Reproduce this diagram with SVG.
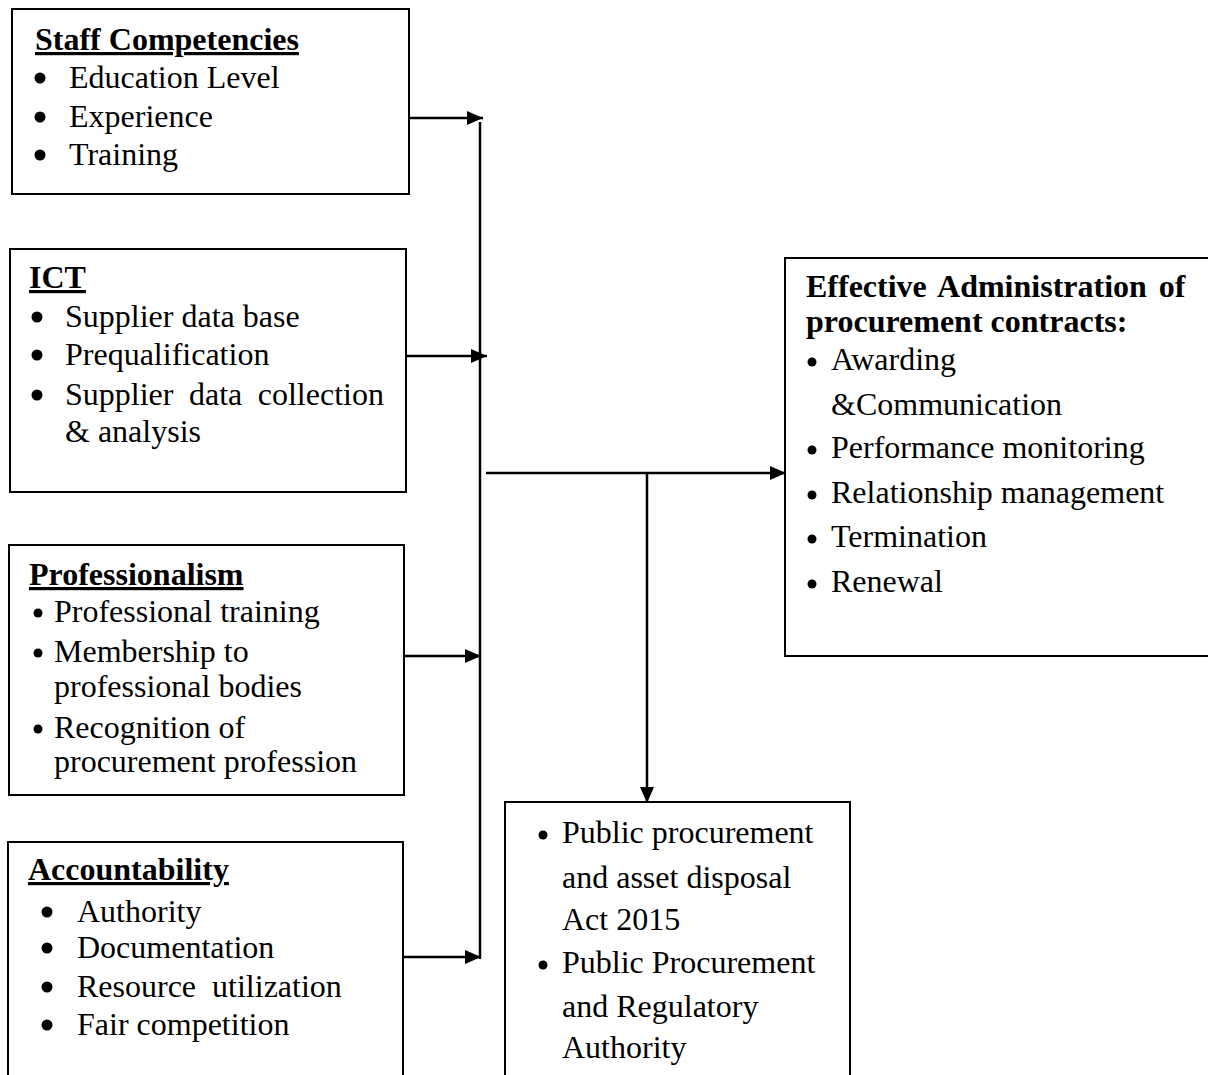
<svg xmlns="http://www.w3.org/2000/svg" width="1208" height="1075" viewBox="0 0 1208 1075">
<style>
text{font-family:"Liberation Serif","Times New Roman",serif;font-size:32px;fill:#000}
.h{font-weight:bold}
.u{text-decoration:underline}
.box{fill:#fff;stroke:#000;stroke-width:2}
.ln{stroke:#000;stroke-width:2.5;fill:none}
.b{fill:#000}
</style>
<defs>
<marker id="ah" markerWidth="16" markerHeight="14" refX="16" refY="7" orient="auto" markerUnits="userSpaceOnUse">
<path d="M0,0 L16,7 L0,14 Z" fill="#000"/>
</marker>
</defs>
<rect width="1208" height="1075" fill="#fff"/>
<g id="connectors">
<line class="ln" x1="409" y1="118" x2="483" y2="118" marker-end="url(#ah)"/>
<line class="ln" x1="406" y1="356" x2="487" y2="356" marker-end="url(#ah)"/>
<line class="ln" x1="400" y1="656" x2="481" y2="656" marker-end="url(#ah)"/>
<line class="ln" x1="403" y1="957" x2="481" y2="957" marker-end="url(#ah)"/>
<line class="ln" x1="480" y1="122" x2="480" y2="959"/>
<line class="ln" x1="486" y1="473" x2="786" y2="473" marker-end="url(#ah)"/>
<line class="ln" x1="647" y1="473" x2="647" y2="803" marker-end="url(#ah)"/>
</g>
<g id="staff">
<rect class="box" x="12" y="9" width="397" height="185"/>
<text class="h u" x="35" y="50">Staff Competencies</text>
<circle class="b" cx="40" cy="78" r="5.5"/><text x="69" y="88">Education Level</text>
<circle class="b" cx="40" cy="117" r="5.5"/><text x="69" y="127">Experience</text>
<circle class="b" cx="40" cy="155" r="5.5"/><text x="69" y="165">Training</text>
</g>
<g id="ict">
<rect class="box" x="10" y="249" width="396" height="243"/>
<text class="h u" x="29" y="288">ICT</text>
<circle class="b" cx="37" cy="317" r="5.5"/><text x="65" y="327">Supplier data base</text>
<circle class="b" cx="37" cy="355" r="5.5"/><text x="65" y="365">Prequalification</text>
<circle class="b" cx="37" cy="395" r="5.5"/><text x="65" y="405" word-spacing="7.5">Supplier data collection</text>
<text x="65" y="442">&amp; analysis</text>
</g>
<g id="professionalism">
<rect class="box" x="9" y="545" width="395" height="250"/>
<text class="h u" x="29" y="585">Professionalism</text>
<circle class="b" cx="38" cy="613" r="4.5"/><text x="54" y="622">Professional training</text>
<circle class="b" cx="38" cy="653" r="4.5"/><text x="54" y="662">Membership to</text>
<text x="54" y="697">professional bodies</text>
<circle class="b" cx="38" cy="729" r="4.5"/><text x="54" y="738">Recognition of</text>
<text x="54" y="772">procurement profession</text>
</g>
<g id="accountability">
<rect class="box" x="8" y="842" width="395" height="250"/>
<text class="h u" x="28" y="880">Accountability</text>
<circle class="b" cx="47" cy="912" r="5.5"/><text x="77" y="922">Authority</text>
<circle class="b" cx="47" cy="948" r="5.5"/><text x="77" y="958">Documentation</text>
<circle class="b" cx="47" cy="987" r="5.5"/><text x="77" y="997" word-spacing="8">Resource utilization</text>
<circle class="b" cx="47" cy="1025" r="5.5"/><text x="77" y="1035">Fair competition</text>
</g>
<g id="outcome">
<rect class="box" x="785" y="258" width="440" height="398"/>
<text class="h" x="806" y="297" word-spacing="4">Effective Administration of</text>
<text class="h" x="806" y="332">procurement contracts:</text>
<circle class="b" cx="812" cy="362" r="4.5"/><text x="831" y="370">Awarding</text>
<text x="831" y="415">&amp;Communication</text>
<circle class="b" cx="812" cy="450" r="4.5"/><text x="831" y="458">Performance monitoring</text>
<circle class="b" cx="812" cy="495" r="4.5"/><text x="831" y="503">Relationship management</text>
<circle class="b" cx="812" cy="539" r="4.5"/><text x="831" y="547">Termination</text>
<circle class="b" cx="812" cy="584" r="4.5"/><text x="831" y="592">Renewal</text>
</g>
<g id="regulation">
<rect class="box" x="505" y="802" width="345" height="290"/>
<circle class="b" cx="543" cy="835" r="4.5"/><text x="562" y="843">Public procurement</text>
<text x="562" y="888">and asset disposal</text>
<text x="562" y="930">Act 2015</text>
<circle class="b" cx="543" cy="965" r="4.5"/><text x="562" y="973">Public Procurement</text>
<text x="562" y="1017">and Regulatory</text>
<text x="562" y="1058">Authority</text>
</g>
</svg>
